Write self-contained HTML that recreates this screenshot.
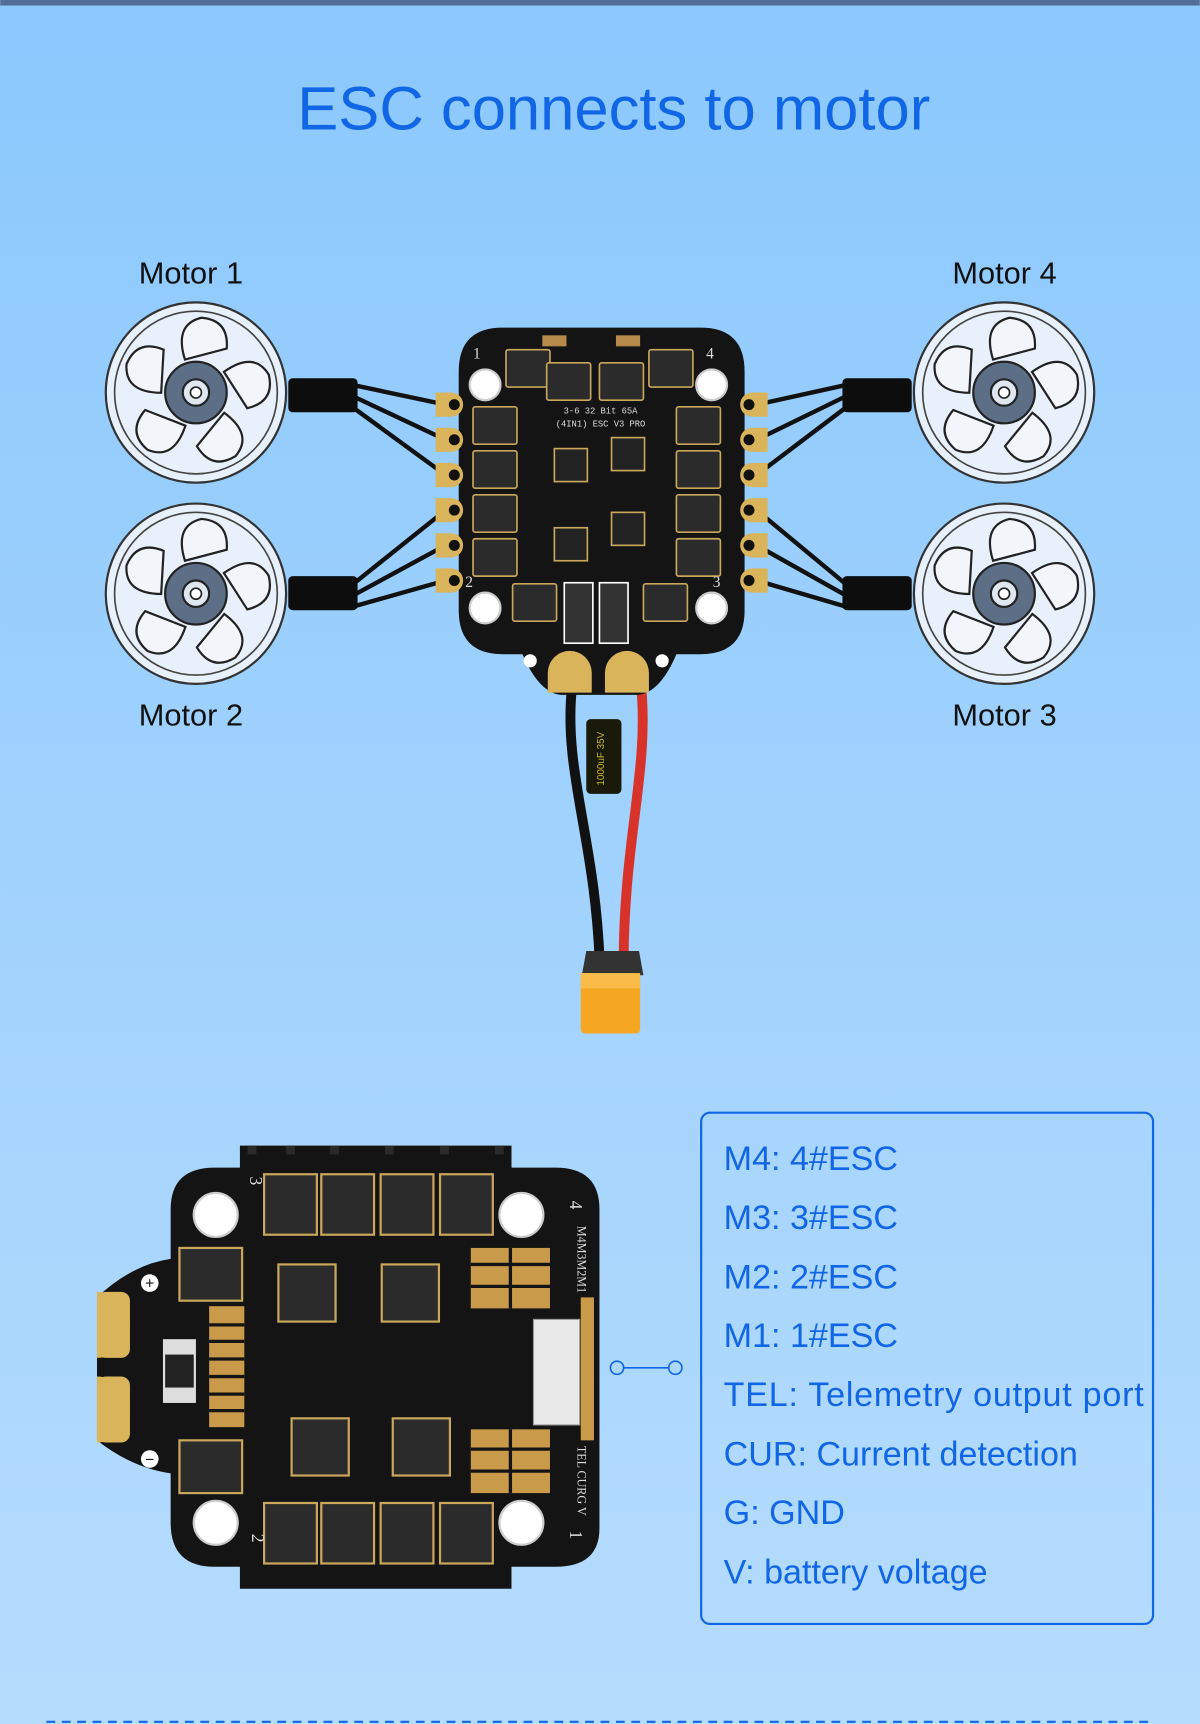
<!DOCTYPE html>
<html><head><meta charset="utf-8"><style>
html,body{margin:0;padding:0}
body{width:1200px;height:1724px;overflow:hidden;background:linear-gradient(#8cc8fd,#b6dcfd);}
svg{display:block}
</style></head><body>
<svg width="1200" height="1724" viewBox="0 0 1091 1568" xmlns="http://www.w3.org/2000/svg" font-family="Liberation Sans, DejaVu Sans, sans-serif">
<defs>
<linearGradient id="bg" x1="0" y1="0" x2="0" y2="1"><stop offset="0" stop-color="#8bc8fd"/><stop offset="1" stop-color="#b6dcfd"/></linearGradient>
<g id="motor">
<circle r="82" fill="#e8f1fb" stroke="#333" stroke-width="2"/>
<circle r="74" fill="none" stroke="#444" stroke-width="1.5"/>
<g fill="#f2f6fb" stroke="#222" stroke-width="2">
<path d="M-10,-30 Q-20,-62 5,-68 Q30,-66 28,-40 Z"/>
<path d="M-10,-30 Q-20,-62 5,-68 Q30,-66 28,-40 Z" transform="rotate(72)"/>
<path d="M-10,-30 Q-20,-62 5,-68 Q30,-66 28,-40 Z" transform="rotate(144)"/>
<path d="M-10,-30 Q-20,-62 5,-68 Q30,-66 28,-40 Z" transform="rotate(216)"/>
<path d="M-10,-30 Q-20,-62 5,-68 Q30,-66 28,-40 Z" transform="rotate(288)"/>
</g>
<circle r="28" fill="#5d6f86" stroke="#222" stroke-width="2"/>
<circle r="12" fill="#dfe7f0" stroke="#222" stroke-width="2"/>
<circle r="5" fill="#fff" stroke="#222" stroke-width="1.5"/>
</g>
<g id="mos"><rect width="40" height="34" rx="2" fill="#2b2b2b" stroke="#caa75a" stroke-width="1.5"/></g>
<g id="pad"><path d="M0,-11 a11,11 0 1 1 0,22 h-14 v-22z" fill="#d9b45a"/><circle cx="3" r="5" fill="#111"/></g>
</defs>
<rect width="1091" height="1568" fill="url(#bg)"/>
<rect width="1091" height="5" fill="#536d96"/>
<text x="558" y="118" font-size="56" fill="#1166e6" text-anchor="middle">ESC connects to motor</text>
<g font-size="28" fill="#111">
<text x="126" y="258">Motor 1</text><text x="866" y="258">Motor 4</text>
<text x="126" y="660">Motor 2</text><text x="866" y="660">Motor 3</text>
</g>
<use href="#motor" x="178" y="357"/><use href="#motor" x="178" y="540"/>
<use href="#motor" x="913" y="357"/><use href="#motor" x="913" y="540"/>
<!-- wires -->
<g stroke="#111" stroke-width="4" fill="none">
<path d="M320,350 L405,368 M320,360 L405,400 M320,370 L405,432"/>
<path d="M320,532 L405,464 M320,542 L405,496 M320,552 L405,528"/>
<path d="M770,350 L688,368 M770,360 L688,400 M770,370 L688,432"/>
<path d="M770,532 L688,464 M770,542 L688,496 M770,552 L688,528"/>
</g>
<rect x="262" y="344" width="63" height="31" rx="4" fill="#0d0d0d"/>
<rect x="262" y="524" width="63" height="31" rx="4" fill="#0d0d0d"/>
<rect x="766" y="344" width="63" height="31" rx="4" fill="#0d0d0d"/>
<rect x="766" y="524" width="63" height="31" rx="4" fill="#0d0d0d"/>
<!-- battery wires -->
<path d="M520,625 C512,700 540,760 545,870" stroke="#111" stroke-width="9" fill="none"/>
<path d="M583,625 C590,700 568,760 567,870" stroke="#d8332a" stroke-width="9" fill="none"/>
<path d="M533,865 h48 l4,22 h-56z" fill="#333"/>
<rect x="528" y="885" width="54" height="55" rx="4" fill="#f5a623"/>
<rect x="528" y="885" width="54" height="14" fill="#f9bb4a"/>
<rect x="533" y="654" width="32" height="68" rx="4" fill="#1a1a0a"/>
<text x="549" y="690" font-size="9" fill="#c9b43a" text-anchor="middle" transform="rotate(-90 549 690)">1000uF 35V</text>
<!-- top board -->
<path d="M457,298 H637 Q677,298 677,338 V555 Q677,595 637,595 L615,595 Q600,630 580,632 H510 Q490,630 475,595 L457,595 Q417,595 417,555 V338 Q417,298 457,298Z" fill="#141414"/>
<g>
<use href="#pad" x="410" y="368"/><use href="#pad" x="410" y="400"/><use href="#pad" x="410" y="432"/>
<use href="#pad" x="410" y="464"/><use href="#pad" x="410" y="496"/><use href="#pad" x="410" y="528"/>
<g transform="translate(1094,0) scale(-1,1)">
<use href="#pad" x="410" y="368"/><use href="#pad" x="410" y="400"/><use href="#pad" x="410" y="432"/>
<use href="#pad" x="410" y="464"/><use href="#pad" x="410" y="496"/><use href="#pad" x="410" y="528"/>
</g></g>
<g fill="#fff" stroke="#ccc" stroke-width="2">
<circle cx="441" cy="350" r="14"/><circle cx="647" cy="350" r="14"/><circle cx="441" cy="553" r="14"/><circle cx="647" cy="553" r="14"/>
</g>
<g>
<use href="#mos" x="460" y="318"/><use href="#mos" x="497" y="330"/><use href="#mos" x="545" y="330"/><use href="#mos" x="590" y="318"/>
<use href="#mos" x="430" y="370"/><use href="#mos" x="430" y="410"/><use href="#mos" x="430" y="450"/><use href="#mos" x="430" y="490"/>
<use href="#mos" x="615" y="370"/><use href="#mos" x="615" y="410"/><use href="#mos" x="615" y="450"/><use href="#mos" x="615" y="490"/>
<use href="#mos" x="466" y="531"/><use href="#mos" x="585" y="531"/>
</g>
<rect x="513" y="530" width="26" height="55" fill="#333" stroke="#fff" stroke-width="1.5"/>
<rect x="545" y="530" width="26" height="55" fill="#333" stroke="#fff" stroke-width="1.5"/>
<rect x="493" y="305" width="22" height="10" fill="#b58a4a"/><rect x="560" y="305" width="22" height="10" fill="#b58a4a"/>
<g fill="#222" stroke="#caa75a" stroke-width="1.5">
<rect x="504" y="408" width="30" height="30"/><rect x="556" y="398" width="30" height="30"/>
<rect x="504" y="480" width="30" height="30"/><rect x="556" y="466" width="30" height="30"/>
</g>
<text x="546" y="376" font-size="8" fill="#ddd" font-family="Liberation Mono, monospace" text-anchor="middle">3-6 32 Bit 65A</text>
<text x="546" y="388" font-size="8" fill="#ddd" font-family="Liberation Mono, monospace" text-anchor="middle">(4IN1) ESC V3 PRO</text>
<g font-size="14" fill="#ddd" font-family="Liberation Serif, serif"><text x="430" y="326">1</text><text x="642" y="326">4</text><text x="423" y="534">2</text><text x="648" y="534">3</text></g>
<path d="M498,612 a20,20 0 0 1 40,0 v18 h-40z" fill="#d9b45a"/><path d="M550,612 a20,20 0 0 1 40,0 v18 h-40z" fill="#d9b45a"/>
<circle cx="482" cy="601" r="6" fill="#fff"/><circle cx="602" cy="601" r="6" fill="#fff"/>
<!-- bottom board -->
<g>
<path d="M218,1042 H465 V1062 H505 Q545,1062 545,1100 V1390 Q545,1425 505,1425 H465 V1445 H218 V1425 H195 Q155,1425 155,1385 V1340 Q120,1335 88,1310 V1180 Q120,1150 155,1145 V1100 Q155,1062 195,1062 H218Z" fill="#141414"/>
<g fill="#2a2a2a"><rect x="225" y="1042" width="8" height="8"/><rect x="260" y="1042" width="8" height="8"/><rect x="300" y="1042" width="8" height="8"/><rect x="350" y="1042" width="8" height="8"/><rect x="400" y="1042" width="8" height="8"/><rect x="450" y="1042" width="8" height="8"/></g>
<path d="M88,1175 a30,30 0 0 1 0,60z M88,1252 a30,30 0 0 1 0,60z" fill="#d9b45a"/>
<rect x="88" y="1175" width="30" height="60" fill="#d9b45a" rx="8"/><rect x="88" y="1252" width="30" height="60" fill="#d9b45a" rx="8"/>
<g fill="#fff" stroke="#ccc" stroke-width="2"><circle cx="196" cy="1105" r="20"/><circle cx="474" cy="1105" r="20"/><circle cx="196" cy="1385" r="20"/><circle cx="474" cy="1385" r="20"/></g>
<g fill="#2b2b2b" stroke="#caa75a" stroke-width="2">
<rect x="240" y="1068" width="48" height="55"/><rect x="292" y="1068" width="48" height="55"/><rect x="346" y="1068" width="48" height="55"/><rect x="400" y="1068" width="48" height="55"/>
<rect x="240" y="1367" width="48" height="55"/><rect x="292" y="1367" width="48" height="55"/><rect x="346" y="1367" width="48" height="55"/><rect x="400" y="1367" width="48" height="55"/>
<rect x="163" y="1135" width="57" height="48"/><rect x="163" y="1310" width="57" height="48"/>
<rect x="253" y="1150" width="52" height="52"/><rect x="347" y="1150" width="52" height="52"/><rect x="265" y="1290" width="52" height="52"/><rect x="357" y="1290" width="52" height="52"/>
</g>
<g fill="#c99a4a"><rect x="190" y="1188" width="32" height="110"/><rect x="428" y="1135" width="72" height="55"/><rect x="428" y="1300" width="72" height="58"/><rect x="528" y="1180" width="12" height="130"/></g>
<g stroke="#141414" stroke-width="3"><path d="M190,1205 h32 M190,1220 h32 M190,1236 h32 M190,1252 h32 M190,1268 h32 M190,1283 h32 M428,1150 h72 M428,1170 h72 M464,1135 v55 M428,1318 h72 M428,1338 h72 M464,1300 v58"/></g>
<rect x="148" y="1218" width="30" height="58" fill="#ddd"/><rect x="150" y="1232" width="26" height="30" fill="#222"/>
<rect x="485" y="1200" width="42" height="96" fill="#e8e8e8" stroke="#999"/>
<circle cx="136" cy="1167" r="8" fill="#fff"/><circle cx="136" cy="1327" r="8" fill="#fff"/>
<text x="136" y="1172" font-size="14" text-anchor="middle" fill="#111">+</text><text x="136" y="1332" font-size="14" text-anchor="middle" fill="#111">−</text>
<g font-size="11" fill="#ddd" font-family="Liberation Serif, serif">
<text x="525" y="1115" transform="rotate(90 525 1115)">M4M3M2M1</text>
<text x="525" y="1315" transform="rotate(90 525 1315)">TEL CURG V</text>
</g>
<g font-size="16" fill="#ddd" font-family="Liberation Serif, serif">
<text x="222" y="1085" transform="rotate(90 232 1080)">3</text><text x="512" y="1092" transform="rotate(90 515 1095)">4</text>
<text x="222" y="1408" transform="rotate(90 232 1405)">2</text><text x="512" y="1392" transform="rotate(90 515 1395)">1</text>
</g>
</g>
<!-- connector -->
<g stroke="#1166e6" stroke-width="1.5" fill="none"><circle cx="561" cy="1244" r="6"/><circle cx="614" cy="1244" r="6"/><path d="M567,1244 H608"/></g>
<rect x="637.5" y="1012" width="411" height="465" rx="8" fill="none" stroke="#1166e6" stroke-width="2"/>
<g font-size="31" fill="#1166e6">
<text x="658" y="1064">M4:  4#ESC</text>
<text x="658" y="1118">M3:  3#ESC</text>
<text x="658" y="1172">M2:  2#ESC</text>
<text x="658" y="1225">M1:  1#ESC</text>
<text x="658" y="1279" textLength="382">TEL:  Telemetry output port</text>
<text x="658" y="1333">CUR:  Current detection</text>
<text x="658" y="1386">G:  GND</text>
<text x="658" y="1440">V:  battery voltage</text>
</g>
<path d="M42,1566 H1050" stroke="#1166e6" stroke-width="2" stroke-dasharray="8,6"/>
</svg>
</body></html>
